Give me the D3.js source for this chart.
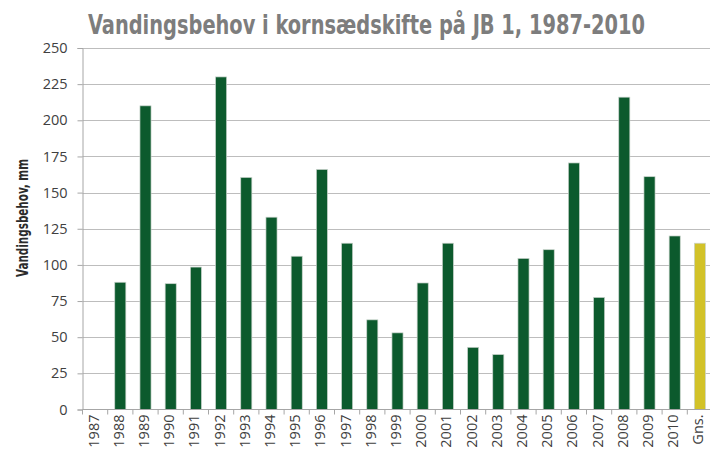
<!DOCTYPE html>
<html>
<head>
<meta charset="utf-8">
<script src="https://cdn.jsdelivr.net/npm/d3@7"></script>
<style>
  html, body { margin: 0; padding: 0; background: #fff; }
  svg { display: block; }
</style>
</head>
<body>
<svg id="chart"></svg>
<script>
// data
var categories = ["1987", "1988", "1989", "1990", "1991", "1992", "1993", "1994", "1995", "1996",
  "1997", "1998", "1999", "2000", "2001", "2002", "2003", "2004", "2005", "2006",
  "2007", "2008", "2009", "2010", "Gns."];
var values = [0, 88, 210, 87, 98.5, 230, 160.5, 133, 106, 166,
  115, 62, 53, 87.5, 115, 43, 38, 104.5, 110.5, 170.5,
  77.5, 216, 161, 120, 115];
var yTicks = [0, 25, 50, 75, 100, 125, 150, 175, 200, 225, 250];
var title = "Vandingsbehov i kornsædskifte på JB 1, 1987-2010";
var yTitle = "Vandingsbehov, mm";

var width = 710, height = 450;
var plot = { left: 82.5, right: 712.5, top: 48, bottom: 409.5 };
var BAR_COLOR = "#0c5a2d", AVG_COLOR = "#d2c228";
var TITLE_FONT = "'Liberation Sans Narrow', 'DejaVu Sans Condensed', sans-serif";
var FONT = "'Open Sans', 'DejaVu Sans', sans-serif";

var svg = d3.select("#chart").attr("width", width).attr("height", height);

var xscale = d3.scaleBand().domain(categories).range([plot.left, plot.right])
  .paddingInner(0.56).paddingOuter(0.28);
var yscale = d3.scaleLinear().domain([0, 250]).range([plot.bottom, plot.top]);

// gridlines
svg.append("g")
  .selectAll("line")
  .data(yTicks.slice(1))
  .enter()
  .append("line")
  .attr("x1", plot.left)
  .attr("x2", width)
  .attr("y1", function (d) { return Math.round(yscale(d)) + 0.5; })
  .attr("y2", function (d) { return Math.round(yscale(d)) + 0.5; })
  .attr("stroke", "#bdbdbd")
  .attr("stroke-width", 1);

// y axis
var yaxis = d3.axisLeft(yscale).tickValues(yTicks).tickSize(5).tickPadding(10);
var gy = svg.append("g")
  .attr("transform", "translate(" + plot.left + ",0)")
  .call(yaxis);
gy.select(".domain").attr("stroke", "#a6a6a6");
gy.selectAll(".tick line").attr("stroke", "#a6a6a6");
gy.selectAll(".tick text")
  .attr("fill", "#404040")
  .style("font-family", FONT)
  .style("font-size", "14.5px");

// bars
svg.append("g")
  .selectAll("rect")
  .data(values)
  .enter()
  .append("rect")
  .attr("x", function (d, i) { return xscale(categories[i]); })
  .attr("width", xscale.bandwidth())
  .attr("y", function (d) { return yscale(d); })
  .attr("height", function (d) { return yscale(0) - yscale(d); })
  .attr("fill", function (d, i) { return categories[i] === "Gns." ? AVG_COLOR : BAR_COLOR; })
  .attr("stroke", function (d) { return d > 0 ? "#c9d3cc" : "none"; })
  .attr("stroke-width", 0.7);

// x axis, ticks between categories
var xaxisG = svg.append("g").attr("transform", "translate(0," + plot.bottom + ")");
xaxisG.append("line")
  .attr("x1", plot.left).attr("x2", width)
  .attr("y1", 0).attr("y2", 0)
  .attr("stroke", "#a6a6a6");
xaxisG.selectAll(".sep")
  .data(categories)
  .enter()
  .append("line")
  .attr("class", "sep")
  .attr("x1", function (d) { return xscale(d) - xscale.step() * xscale.paddingInner() / 2; })
  .attr("x2", function (d) { return xscale(d) - xscale.step() * xscale.paddingInner() / 2; })
  .attr("y1", 0).attr("y2", 5)
  .attr("stroke", "#a6a6a6");
xaxisG.selectAll(".lab")
  .data(categories)
  .enter()
  .append("text")
  .attr("class", "lab")
  .attr("transform", function (d) {
    return "translate(" + (xscale(d) + xscale.bandwidth() / 2 + 3.5) + ",5)rotate(-90)";
  })
  .attr("text-anchor", "end")
  .attr("fill", "#404040")
  .style("font-family", FONT)
  .style("font-size", "14.5px")
  .text(function (d) { return d; });

// titles
svg.append("text")
  .attr("x", 88)
  .attr("y", 34)
  .attr("textLength", 557)
  .attr("lengthAdjust", "spacingAndGlyphs")
  .attr("fill", "#7d7d7d")
  .style("font-family", TITLE_FONT)
  .style("font-weight", "bold")
  .style("font-size", "26px")
  .text(title);

svg.append("text")
  .attr("text-anchor", "middle")
  .attr("transform", "translate(28,218)rotate(-90)")
  .attr("textLength", 118)
  .attr("lengthAdjust", "spacingAndGlyphs")
  .attr("fill", "#2b2b2b")
  .style("font-family", TITLE_FONT)
  .style("font-weight", "bold")
  .style("font-size", "16px")
  .text(yTitle);
</script>
</body>
</html>
